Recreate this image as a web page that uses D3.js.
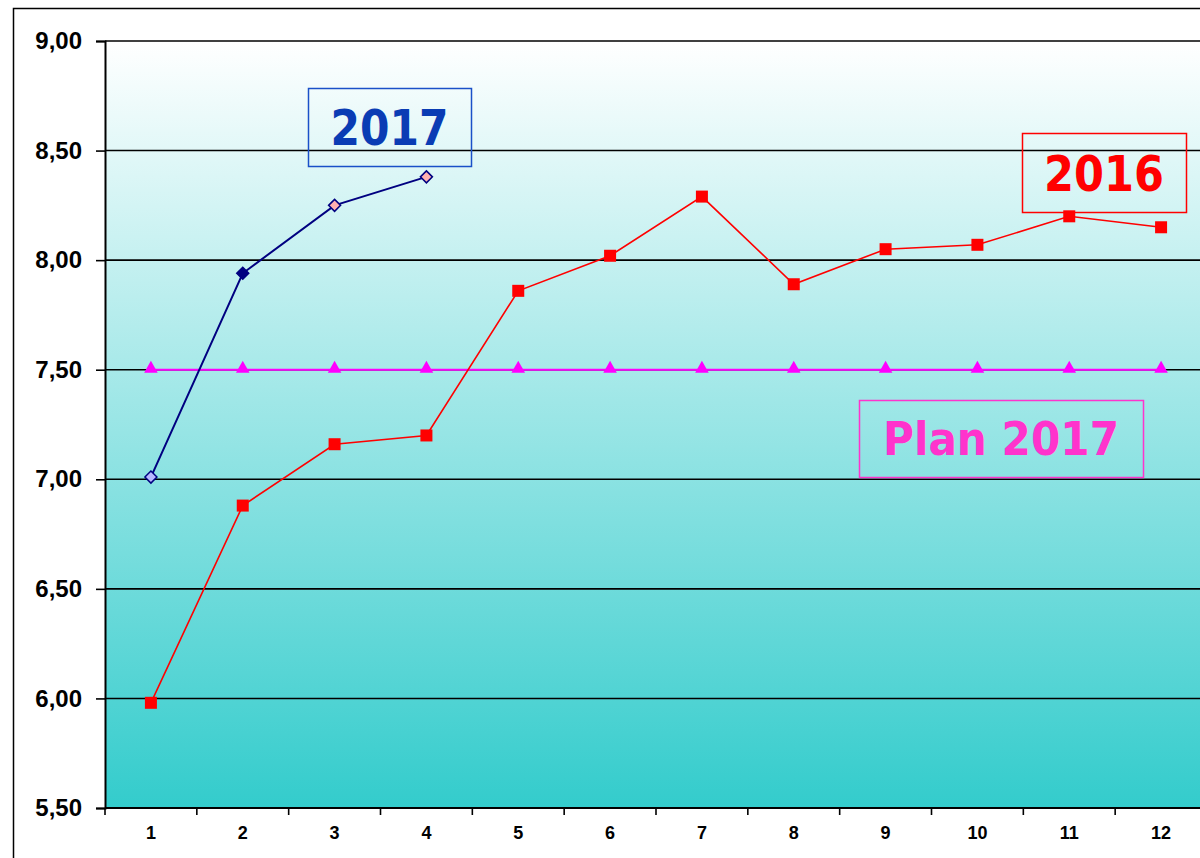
<!DOCTYPE html>
<html>
<head>
<meta charset="UTF-8">
<title>2016 / 2017 / Plan 2017</title>
<script src="https://d3js.org/d3.v7.min.js"></script>
<style>
body { margin: 0; background: #fff; }
svg { display: block; }
.tick text { font-family: "Liberation Sans", Arial, sans-serif; font-weight: bold; }
</style>
</head>
<body>
<svg id="chart" width="1200" height="858"></svg>
<script>
// data
const months = [1, 2, 3, 4, 5, 6, 7, 8, 9, 10, 11, 12];
const y2016 = [5.98, 6.88, 7.16, 7.20, 7.86, 8.02, 8.29, 7.89, 8.05, 8.07, 8.20, 8.15];
const y2017 = [7.01, 7.94, 8.25, 8.38];
const plan2017 = [7.5, 7.5, 7.5, 7.5, 7.5, 7.5, 7.5, 7.5, 7.5, 7.5, 7.5, 7.5];
const yTicks = [5.5, 6, 6.5, 7, 7.5, 8, 8.5, 9];
// marker fills of the 2017 diamonds
const fill2017 = ["#b8b8ff", "#000080", "#ffb0b0", "#ffb0b0"];

const svg = d3.select("#chart");
const plotL = 105, plotT = 41, plotB = 808, plotR = 1207;

let x = d3.scaleBand().domain(months).range([plotL, plotR]);
let y = d3.scaleLinear().domain([5.5, 9]).range([plotB, plotT]);
const cx = d => x(d) + x.bandwidth() / 2;

// outer frame
svg.append("rect")
    .attr("x", 13.5).attr("y", 8.5)
    .attr("width", 1300).attr("height", 1000)
    .attr("fill", "none").attr("stroke", "#000").attr("stroke-width", 1.5);

// plot background gradient
let grad = svg.append("defs").append("linearGradient")
    .attr("id", "bg").attr("x1", 0).attr("y1", 0).attr("x2", 0).attr("y2", 1);
grad.append("stop").attr("offset", "0%").attr("stop-color", "#ffffff");
grad.append("stop").attr("offset", "100%").attr("stop-color", "#33cccc");

svg.append("rect")
    .attr("x", plotL).attr("y", plotT)
    .attr("width", plotR - plotL).attr("height", plotB - plotT)
    .attr("fill", "url(#bg)");

// gridlines
svg.append("g")
    .selectAll("line")
    .data(yTicks)
    .join("line")
    .attr("x1", plotL).attr("x2", plotR)
    .attr("y1", d => y(d)).attr("y2", d => y(d))
    .attr("stroke", "#000").attr("stroke-width", 1.6);

// y axis
let yAxis = svg.append("g")
    .attr("transform", `translate(${plotL},0)`)
    .call(d3.axisLeft(y).tickValues(yTicks).tickSize(9).tickPadding(14)
        .tickFormat(d => d3.format(".2f")(d).replace(".", ",")));
yAxis.select(".domain").attr("stroke-width", 2);
yAxis.selectAll(".tick line").attr("stroke-width", 1.6);
yAxis.selectAll(".tick text").attr("font-size", 24).attr("fill", "#000");

// x axis: ticks at band edges, labels in the middle
let xAxis = svg.append("g").attr("transform", `translate(0,${plotB})`);
xAxis.append("line")
    .attr("x1", plotL).attr("x2", plotR)
    .attr("stroke", "#000").attr("stroke-width", 2);
xAxis.selectAll("line.edge")
    .data(months)
    .join("line")
    .attr("class", "edge")
    .attr("x1", d => x(d)).attr("x2", d => x(d))
    .attr("y1", 0).attr("y2", 7)
    .attr("stroke", "#000").attr("stroke-width", 1.6);
xAxis.selectAll("text")
    .data(months)
    .join("text")
    .attr("x", d => cx(d)).attr("y", 31)
    .attr("text-anchor", "middle")
    .attr("font-family", "'Liberation Sans', Arial, sans-serif")
    .attr("font-weight", "bold").attr("font-size", 18)
    .text(d => d);

const line = d3.line().x((d, i) => cx(months[i])).y(d => y(d));

// plan 2017
svg.append("path").datum(plan2017)
    .attr("d", line).attr("fill", "none")
    .attr("stroke", "#ff00ff").attr("stroke-width", 2);
svg.append("g").selectAll("path")
    .data(plan2017)
    .join("path")
    .attr("d", d3.symbol(d3.symbolTriangle, 80))
    .attr("transform", (d, i) => `translate(${cx(months[i])},${y(d) - 1})`)
    .attr("fill", "#ff00ff");

// 2016
svg.append("path").datum(y2016)
    .attr("d", line).attr("fill", "none")
    .attr("stroke", "#ff0000").attr("stroke-width", 1.6);
svg.append("g").selectAll("rect")
    .data(y2016)
    .join("rect")
    .attr("x", (d, i) => cx(months[i]) - 6)
    .attr("y", d => y(d) - 6)
    .attr("width", 12).attr("height", 12)
    .attr("fill", "#ff0000");

// 2017
svg.append("path").datum(y2017)
    .attr("d", line).attr("fill", "none")
    .attr("stroke", "#000080").attr("stroke-width", 2);
svg.append("g").selectAll("path")
    .data(y2017)
    .join("path")
    .attr("d", "M0,-6L6,0L0,6L-6,0Z")
    .attr("transform", (d, i) => `translate(${cx(months[i])},${y(d)})`)
    .attr("fill", (d, i) => fill2017[i])
    .attr("stroke", "#000080").attr("stroke-width", 1.5);

// labels in boxes
const labels = [
    {text: "2017", x: 308, y: 88, w: 163, h: 78, color: "#0a3cb4", box: "#1a50c8", size: 50, len: 118},
    {text: "2016", x: 1022, y: 133, w: 164, h: 79, color: "#ff0000", box: "#ff0000", size: 50, len: 120},
    {text: "Plan 2017", x: 859, y: 400, w: 284, h: 77, color: "#ff33cc", box: "#ff33cc", size: 47, len: 236}
];
let lab = svg.append("g").selectAll("g")
    .data(labels)
    .join("g");
lab.append("rect")
    .attr("x", d => d.x + 0.5).attr("y", d => d.y + 0.5)
    .attr("width", d => d.w).attr("height", d => d.h)
    .attr("fill", "none")
    .attr("stroke", d => d.box).attr("stroke-width", 1.5);
lab.append("text")
    .attr("x", d => d.x + d.w / 2)
    .attr("y", d => d.y + d.h / 2 + d.size * 0.36)
    .attr("text-anchor", "middle")
    .attr("font-family", "'DejaVu Sans', sans-serif")
    .attr("font-weight", "bold")
    .attr("font-size", d => d.size)
    .attr("textLength", d => d.len)
    .attr("lengthAdjust", "spacingAndGlyphs")
    .attr("fill", d => d.color)
    .text(d => d.text);
</script>
</body>
</html>
